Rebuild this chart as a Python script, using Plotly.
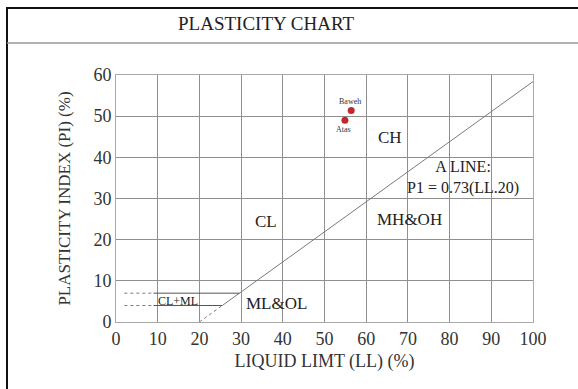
import plotly.graph_objects as go

# ---- data ----
sample_names = ["Baweh", "Atas"]
sample_ll = [56.4, 54.9]
sample_pi = [51.4, 49.0]

a_line_ll_solid = [25.5, 100]
a_line_ll_dashed = [20, 25.5]
a_slope = 0.73
a_offset = 20

clml_levels = [4, 7]
clml_dash_ll = [2, 9]
clml_solid_start = 9

zone_labels = ["CH", "CL", "MH&OH", "ML&OL"]
zone_ll = [65.7, 35.9, 70.3, 38.6]
zone_pi = [44.9, 24.3, 25.0, 4.6]

x_ticks = [0, 10, 20, 30, 40, 50, 60, 70, 80, 90, 100]
y_ticks = [0, 10, 20, 30, 40, 50, 60]

W, H = 578, 389
L, R, T, B = 116, 533, 75, 322


def px(x):
    return (x - L) / (R - L)


def py(y):
    return (B - y) / (B - T)


def aline(ll):
    return a_slope * (ll - a_offset)


FONT = "Liberation Serif, Times New Roman, serif"
GRID = "#8f8f8f"
LINE = "#7a7a7a"

fig = go.Figure()

# A line
fig.add_trace(go.Scatter(x=a_line_ll_solid, y=[aline(v) for v in a_line_ll_solid],
                         mode="lines", line=dict(color=LINE, width=1), hoverinfo="skip"))
fig.add_trace(go.Scatter(x=a_line_ll_dashed, y=[aline(v) for v in a_line_ll_dashed],
                         mode="lines", line=dict(color=LINE, width=1, dash="3px,3px"), hoverinfo="skip"))

# CL+ML boundary lines
for lvl in clml_levels:
    end_ll = a_offset + lvl / a_slope
    fig.add_trace(go.Scatter(x=clml_dash_ll, y=[lvl, lvl], mode="lines",
                             line=dict(color=LINE, width=1, dash="3px,3px"), hoverinfo="skip"))
    fig.add_trace(go.Scatter(x=[clml_solid_start, end_ll], y=[lvl, lvl], mode="lines",
                             line=dict(color="#555555", width=1), hoverinfo="skip"))

# Samples
fig.add_trace(go.Scatter(x=sample_ll, y=sample_pi, mode="markers",
                         marker=dict(color="#c0282d", size=7), hoverinfo="skip"))

annotations = []
for name, x, y, pos in zip(sample_names, sample_ll, sample_pi, ["above", "below"]):
    annotations.append(dict(x=x, y=y, text=name, showarrow=False,
                            yshift=9 if pos == "above" else -9, xshift=-1,
                            font=dict(family=FONT, size=8, color="#333")))
for t, x, y in zip(zone_labels, zone_ll, zone_pi):
    annotations.append(dict(x=x, y=y, text=t, showarrow=False,
                            font=dict(family=FONT, size=17, color="#222")))
annotations.append(dict(x=83.2, y=35.2, text="A LINE:<br>P1 = 0.73(LL.20)", showarrow=False,
                        font=dict(family=FONT, size=16, color="#222"), align="center"))
annotations.append(dict(x=14.9, y=5.2, text="CL+ML", showarrow=False,
                        font=dict(family=FONT, size=12, color="#222")))
annotations.append(dict(xref="paper", yref="paper", x=px(266), y=py(23), yanchor="middle",
                        xanchor="center", text="PLASTICITY CHART",
                        showarrow=False, font=dict(family=FONT, size=19, color="#222")))

shapes = [
    # outer frame
    dict(type="line", xref="paper", yref="paper", x0=px(7), x1=px(7), y0=py(8), y1=py(400),
         line=dict(color="#111", width=2)),
    dict(type="line", xref="paper", yref="paper", x0=px(6), x1=px(590), y0=py(8), y1=py(8),
         line=dict(color="#111", width=2)),
    dict(type="line", xref="paper", yref="paper", x0=px(7), x1=px(590), y0=py(43), y1=py(43),
         line=dict(color="#999", width=1.5)),
]

fig.update_layout(
    width=W, height=H,
    margin=dict(l=L, r=W - R, t=T, b=H - B),
    paper_bgcolor="white", plot_bgcolor="white",
    showlegend=False,
    annotations=annotations, shapes=shapes,
    font=dict(family=FONT, size=18, color="#333"),
    xaxis=dict(range=[0, 100], tickvals=x_ticks, showgrid=True, gridcolor=GRID, gridwidth=1,
               zeroline=False, showline=True, linecolor="#aaa", mirror=True, ticks="",
               tickfont=dict(family=FONT, size=18, color="#333"),
               title=dict(text="LIQUID LIMT (LL) (%)", font=dict(family=FONT, size=18, color="#333"),
                          standoff=6)),
    yaxis=dict(range=[0, 60], tickvals=y_ticks, showgrid=True, gridcolor=GRID, gridwidth=1,
               zeroline=False, showline=True, linecolor="#aaa", mirror=True, ticks="",
               tickfont=dict(family=FONT, size=18, color="#333"),
               title=dict(text="PLASTICITY INDEX (PI) (%)", font=dict(family=FONT, size=17, color="#333"),
                          standoff=18)),
)

fig.write_html("out.html")
